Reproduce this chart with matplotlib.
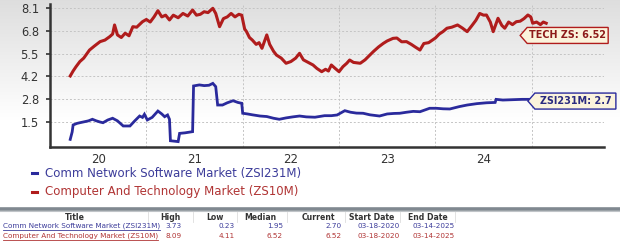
import numpy as np
import matplotlib
matplotlib.use("Agg")
import matplotlib.pyplot as plt
from matplotlib.patches import Polygon
from matplotlib.transforms import IdentityTransform

# ---------------- data ----------------
red_t = [2020.21, 2020.24, 2020.27, 2020.31, 2020.35, 2020.41, 2020.46, 2020.52, 2020.57, 2020.62,
         2020.65, 2020.67, 2020.70, 2020.74, 2020.78, 2020.82, 2020.86, 2020.90, 2020.96, 2021.00,
         2021.04, 2021.08, 2021.12, 2021.16, 2021.20, 2021.24, 2021.28, 2021.33, 2021.38, 2021.43,
         2021.48, 2021.52, 2021.56, 2021.60, 2021.64, 2021.69, 2021.72, 2021.76, 2021.80, 2021.84,
         2021.88, 2021.92, 2021.96, 2021.99, 2022.02, 2022.04, 2022.07, 2022.10, 2022.14, 2022.17,
         2022.20, 2022.25, 2022.28, 2022.32, 2022.35, 2022.40, 2022.45, 2022.50, 2022.55, 2022.59,
         2022.63, 2022.68, 2022.73, 2022.77, 2022.82, 2022.86, 2022.89, 2022.92, 2022.96, 2023.00,
         2023.04, 2023.08, 2023.11, 2023.15, 2023.22, 2023.27, 2023.32, 2023.36, 2023.41, 2023.46,
         2023.50, 2023.56, 2023.60, 2023.65, 2023.70, 2023.75, 2023.79, 2023.84, 2023.88, 2023.93,
         2024.00, 2024.04, 2024.08, 2024.12, 2024.17, 2024.23, 2024.28, 2024.33, 2024.38, 2024.42,
         2024.46, 2024.50, 2024.53, 2024.57, 2024.60, 2024.65, 2024.69, 2024.72, 2024.76, 2024.80,
         2024.84, 2024.88, 2024.92, 2024.96, 2024.99, 2025.01, 2025.05, 2025.09, 2025.12, 2025.15]
red_v = [4.16, 4.45, 4.70, 5.00, 5.20, 5.67, 5.90, 6.16, 6.25, 6.45,
         6.60, 7.13, 6.55, 6.40, 6.65, 6.50, 7.03, 7.00, 7.32, 7.45,
         7.30, 7.60, 7.96, 7.60, 7.70, 7.42, 7.70, 7.55, 7.80, 7.65,
         8.00, 7.70, 7.75, 7.90, 7.85, 8.10, 7.80, 7.03, 7.50, 7.60,
         7.80, 7.60, 7.75, 7.70, 6.90, 6.74, 6.40, 6.25, 6.00, 6.10,
         5.77, 6.55, 6.00, 5.60, 5.38, 5.20, 4.90, 5.00, 5.20, 5.48,
         5.10, 4.95, 4.80, 4.60, 4.41, 4.55, 4.45, 4.80, 4.60, 4.41,
         4.70, 4.90, 5.09, 4.95, 4.90, 5.10, 5.38, 5.60, 5.85, 6.06,
         6.20, 6.35, 6.37, 6.15, 6.16, 6.00, 5.85, 5.67, 6.05, 6.10,
         6.37, 6.60, 6.75, 6.94, 7.00, 7.13, 6.95, 6.74, 7.10, 7.40,
         7.80, 7.70, 7.71, 7.30, 6.74, 7.52, 7.10, 6.94, 7.30, 7.15,
         7.32, 7.35, 7.50, 7.71, 7.60, 7.23, 7.30, 7.15, 7.30, 7.23]

blue_t = [2020.21, 2020.23, 2020.24, 2020.28, 2020.31, 2020.36, 2020.40, 2020.44, 2020.48, 2020.52,
          2020.55, 2020.60, 2020.65, 2020.70, 2020.76, 2020.83, 2020.88, 2020.93, 2020.96, 2020.98,
          2021.01, 2021.06, 2021.12, 2021.16, 2021.19, 2021.22, 2021.24, 2021.25, 2021.30, 2021.33,
          2021.345, 2021.40, 2021.48, 2021.49, 2021.55, 2021.60, 2021.65, 2021.69, 2021.72, 2021.74,
          2021.79, 2021.84, 2021.90, 2021.95, 2021.99, 2022.00, 2022.05, 2022.10, 2022.18, 2022.25,
          2022.32, 2022.38, 2022.45, 2022.52, 2022.59, 2022.66, 2022.75, 2022.85, 2022.92, 2022.98,
          2023.06, 2023.12, 2023.18, 2023.25, 2023.32, 2023.42, 2023.50, 2023.57, 2023.63, 2023.70,
          2023.77, 2023.84, 2023.94, 2024.01, 2024.08, 2024.15, 2024.25, 2024.33, 2024.43, 2024.53,
          2024.62, 2024.63, 2024.70, 2024.80, 2024.90, 2025.00, 2025.15]
blue_v = [0.47, 0.90, 1.31, 1.40, 1.44, 1.50, 1.55, 1.64, 1.55, 1.48,
          1.44, 1.60, 1.70, 1.55, 1.25, 1.25, 1.55, 1.83, 1.75, 1.93,
          1.60, 1.75, 2.12, 1.95, 1.79, 1.89, 1.64, 0.39, 0.36, 0.34,
          0.82, 0.85, 0.92, 3.58, 3.64, 3.60, 3.62, 3.73, 3.54, 2.47,
          2.47, 2.60, 2.72, 2.62, 2.57, 1.99, 1.95, 1.90, 1.83, 1.80,
          1.70, 1.64, 1.72, 1.78, 1.83, 1.78, 1.76, 1.85, 1.85, 1.89,
          2.14, 2.05, 2.00, 1.99, 1.90, 1.83, 1.95, 1.98, 1.99, 2.05,
          2.10, 2.08, 2.28, 2.28, 2.25, 2.24, 2.38, 2.47, 2.55, 2.60,
          2.62, 2.80, 2.76, 2.78, 2.80, 2.80, 2.80]

ytick_labels = ["1.5", "2.8", "4.2", "5.5", "6.8", "8.1"]
year_labels = ["20", "21", "22", "23", "24"]
year_centers = [2020.5, 2021.5, 2022.5, 2023.5, 2024.5]
year_bounds = [2021, 2022, 2023, 2024, 2025]

series_names = ["Comm Network Software Market (ZSI231M)",
                "Computer And Technology Market (ZS10M)"]
tag_texts = ["ZSI231M: 2.7", "TECH ZS: 6.52"]
tag_values = [2.7, 6.52]
tag_t = [2024.96, 2024.88]

table_headers = ["Title", "High", "Low", "Median", "Current", "Start Date", "End Date"]
table_rows = [
    ["Comm Network Software Market (ZSI231M)", "3.73", "0.23", "1.95", "2.70", "03-18-2020", "03-14-2025"],
    ["Computer And Technology Market (ZS10M)", "8.09", "4.11", "6.52", "6.52", "03-18-2020", "03-14-2025"],
]

BLUE = "#2a2a9c"
RED = "#b01c1c"
BLUE_TXT = "#3c3c9a"
RED_TXT = "#b03434"

W, H = 620, 244
fig = plt.figure(figsize=(W / 100, H / 100), dpi=100)
fig.patch.set_facecolor("white")

# background gradient over whole figure
bg = fig.add_axes([0, 0, 1, 1], zorder=-10)
grad = np.ones((H, 1))
rows = np.arange(H)
g = 0.87 + 0.13 * np.clip(rows / 120.0, 0, 1)
grad[:, 0] = g
bg.imshow(np.dstack([grad, grad, grad]), aspect="auto", extent=[0, 1, 0, 1],
          origin="upper", interpolation="bilinear")
bg.set_axis_off()


def fx(px):
    return px / W


def fy(py):
    return 1 - py / H


ax_left, ax_right, ax_top, ax_bot = 50, 604, 4, 146.7
ax = fig.add_axes([fx(ax_left), fy(ax_bot), (ax_right - ax_left) / W, (ax_bot - ax_top) / H])
ax.patch.set_alpha(0)

ax.plot(red_t, red_v, color=RED, lw=2.2, solid_joinstyle="round", zorder=3)
ax.plot(blue_t, blue_v, color=BLUE, lw=2.0, solid_joinstyle="miter", zorder=3)

ax.set_xlim(2020.0, 2025.75)
ax.set_ylim(0.044, 8.35)

ax.set_yticks(np.linspace(1.5, 8.1, 6))
ax.set_yticklabels(ytick_labels)
ax.set_xticks(year_centers)
ax.set_xticklabels(year_labels)
ax.set_xticks(year_bounds, minor=True)

ax.tick_params(axis="y", which="major", length=3, width=1.2, color="#333333",
               labelsize=8.3, labelcolor="#333333", pad=5)
ax.tick_params(axis="x", which="major", length=0, labelsize=8.5, labelcolor="#333333", pad=4.5)
ax.tick_params(axis="x", which="minor", length=0)

ax.grid(axis="y", which="major", color="#c4c4c4", ls=(0, (2, 2)), lw=0.7)
ax.grid(axis="x", which="minor", color="#c4c4c4", ls=(0, (2, 2)), lw=0.7)

for s in ["top", "right"]:
    ax.spines[s].set_visible(False)
for s in ["left", "bottom"]:
    ax.spines[s].set_color("#333333")
    ax.spines[s].set_linewidth(1.8)

# value tags
fig.canvas.draw()
for txt, val, t, col, tcol in zip(tag_texts, tag_values, tag_t, [BLUE, RED], ["#2a2a80", "#8c1a1a"]):
    tx, ty = ax.transData.transform((t, val))
    w, h2, pt = 88, 8.0, 7
    verts = [(tx, ty), (tx + pt, ty + h2), (tx + w, ty + h2), (tx + w, ty - h2), (tx + pt, ty - h2)]
    poly = Polygon(verts, closed=True, transform=IdentityTransform(), facecolor="#fbf3dc",
                   edgecolor=col, lw=1.0, zorder=10)
    fig.add_artist(poly)
    fig.text((tx + pt + (w - pt) / 2) / W, ty / H, txt, ha="center", va="center",
             fontsize=6.9, fontweight="bold", color=tcol, zorder=11)

# legend
for i, (name, col, tcol) in enumerate(zip(series_names, [BLUE, RED], [BLUE_TXT, RED_TXT])):
    yy = 173 + i * 19
    fig.add_artist(plt.Line2D([fx(32), fx(37)], [fy(yy), fy(yy)], color=col, lw=2.2))
    fig.text(fx(45), fy(yy), name, ha="left", va="center", fontsize=8.5, color=tcol)

# table separator
fig.add_artist(plt.Line2D([0, 1], [fy(209), fy(209)], color="#808890", lw=2.6))
fig.add_artist(plt.Line2D([0, 1], [fy(210.8), fy(210.8)], color="#c0c4c8", lw=0.8))

hdr_x = [75, 170, 215, 260, 318, 372, 428]
val_right = [None, 182, 235, 283, 342, None, None]
val_center = [None, None, None, None, None, 379, 434]
sep_x = [148, 193, 237, 287, 345, 400, 455]
for sx in sep_x:
    fig.add_artist(plt.Line2D([fx(sx), fx(sx)], [fy(212), fy(222)], color="#dddddd", lw=0.6))

for j, hname in enumerate(table_headers):
    fig.text(fx(hdr_x[j]), fy(217), hname, ha="center", va="center", fontsize=5.6,
             color="#333333", fontweight="semibold")

renderer = fig.canvas.get_renderer()
for i, row in enumerate(table_rows):
    yy = 226 + i * 10
    col = [BLUE_TXT, RED_TXT][i]
    t = fig.text(fx(3), fy(yy), row[0], ha="left", va="center", fontsize=5.2, color=col)
    bb = t.get_window_extent(renderer)
    fig.add_artist(plt.Line2D([bb.x0 / W, bb.x1 / W], [fy(yy + 3.5), fy(yy + 3.5)], color=col, lw=0.6))
    for j in range(1, 7):
        if val_right[j] is not None:
            fig.text(fx(val_right[j]), fy(yy), row[j], ha="right", va="center", fontsize=5.2, color=col)
        else:
            fig.text(fx(val_center[j]), fy(yy), row[j], ha="center", va="center", fontsize=5.2, color=col)

fig.savefig("out.png", dpi=100, facecolor=fig.get_facecolor())
